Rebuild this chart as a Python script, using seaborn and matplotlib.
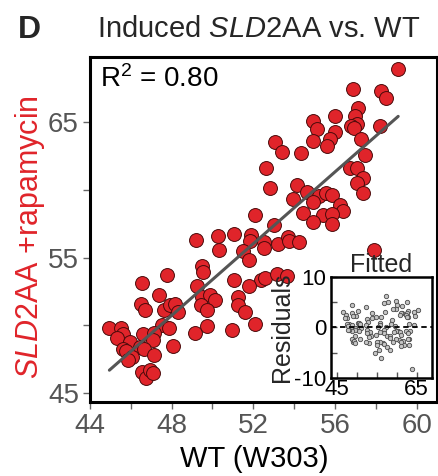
import numpy as np
import pandas as pd
import matplotlib
matplotlib.use("Agg")
import matplotlib.pyplot as plt
import seaborn as sns

# WT (W303) values (x) and induced SLD2AA +rapamycin values (y)
wt = [59.10, 56.89, 58.25, 58.48, 57.14, 56.01, 56.99, 54.95, 57.10, 56.77,
      56.94, 55.13, 58.19, 56.02, 55.74, 54.95, 55.59, 57.27, 53.07, 53.40,
      54.33, 57.48, 52.63, 56.76, 57.10, 57.37, 57.06, 54.15, 52.82, 57.37,
      54.64, 55.24, 55.54, 55.85, 53.95, 54.91, 56.25, 56.39, 54.43, 55.41,
      55.88, 54.95, 55.88, 52.06, 53.00, 49.20, 50.29, 51.04, 51.87, 51.84,
      50.32, 51.51, 52.53, 52.53, 53.19, 53.71, 53.75, 54.26, 51.80, 49.48,
      49.54, 47.77, 46.53, 51.06, 52.38, 52.58, 53.17, 53.66, 49.26, 51.81,
      51.23, 47.40, 49.47, 49.88, 50.10, 46.50, 46.70, 47.63, 47.91, 48.17,
      48.31, 49.42, 49.75, 51.25, 51.60, 52.06, 50.95, 49.72, 49.15, 47.51,
      47.85, 44.95, 45.51, 45.60, 45.32, 45.96, 46.61, 47.12, 47.09, 48.08,
      45.62, 45.78, 46.45, 46.65, 47.14, 46.04, 45.88, 46.53, 46.72, 46.93,
      47.07, 57.89]
sld2aa = [68.91, 67.44, 67.31, 66.79, 66.00, 65.48, 65.48, 65.11, 64.89, 64.70,
          64.56, 64.52, 64.70, 64.26, 63.75, 63.63, 63.23, 63.75, 63.55, 62.81,
          62.75, 62.54, 61.58, 61.64, 61.58, 60.90, 60.50, 60.37, 60.11, 59.74,
          59.80, 59.52, 59.76, 59.61, 59.30, 59.10, 58.91, 58.43, 58.26, 58.11,
          58.21, 57.60, 57.44, 58.14, 57.40, 56.27, 56.62, 56.72, 56.64, 56.25,
          55.55, 55.50, 56.11, 55.68, 55.98, 56.55, 56.23, 56.17, 54.82, 54.39,
          53.91, 53.69, 53.14, 53.36, 53.34, 53.46, 53.75, 53.67, 52.90, 52.87,
          52.12, 52.23, 52.08, 52.20, 51.84, 51.57, 51.16, 51.13, 51.49, 51.59,
          51.00, 51.52, 51.13, 51.46, 51.00, 50.09, 49.65, 49.96, 49.45, 50.02,
          49.80, 49.77, 49.77, 49.34, 49.07, 48.73, 49.34, 49.41, 48.93, 48.49,
          48.23, 48.10, 48.38, 48.23, 47.80, 47.66, 47.44, 46.54, 46.08, 46.68,
          46.45, 55.59]

x_major = [44, 48, 52, 56, 60]
x_minor = [46, 50, 54, 58]
y_major = [45, 55, 65]
y_minor = [50, 60]
in_xticks = [45, 50, 55, 60, 65]
in_xlabels = ["45", "", "", "", "65"]
in_yticks = [-10, -5, 0, 5, 10]
in_ylabels = ["-10", "", "0", "", "10"]

sns.set_theme(style="ticks")
plt.rcParams["font.family"] = ["Liberation Sans", "DejaVu Sans"]
plt.rcParams["mathtext.fontset"] = "custom"
plt.rcParams["mathtext.rm"] = "Liberation Sans"
plt.rcParams["mathtext.it"] = "Liberation Sans:italic"
plt.rcParams["mathtext.bf"] = "Liberation Sans:bold"

df = pd.DataFrame({"wt": wt, "sld2aa": sld2aa})

fig = plt.figure(figsize=(4.39, 4.76), dpi=100)
ax = fig.add_axes([0.2050, 0.1555, 0.7904, 0.7248])

sns.scatterplot(data=df, x="wt", y="sld2aa", ax=ax, s=100, color="#e0242a",
                edgecolor="#4a0a0a", linewidth=0.7, zorder=2, legend=False)
sns.regplot(data=df, x="wt", y="sld2aa", ax=ax, scatter=False, ci=None,
            color="#555555", line_kws=dict(lw=2.2, zorder=3))

ax.set_xlim(44, 61.0)
ax.set_ylim(44.34, 69.8)
ax.set_xticks(x_major)
ax.set_xticks(x_minor, minor=True)
ax.set_yticks(y_major)
ax.set_yticks(y_minor, minor=True)
ax.set_xlabel("")
ax.set_ylabel("")
ax.tick_params(which="both", direction="out", length=5, width=1.0,
               color="#666666", labelcolor="#555555", labelsize=20, pad=3)
for sp in ax.spines.values():
    sp.set_visible(True)
    sp.set_linewidth(2.2)
    sp.set_color("black")

ax.text(0.03, 0.975, r"R$^2$ = 0.80", transform=ax.transAxes, fontsize=20,
        ha="left", va="top", color="black")

fig.text(0.040, 1 - 38.3 / 476, "D", fontsize=23, fontweight="bold",
         ha="left", va="baseline")
fig.text(0.220, 1 - 37 / 476, r"Induced $\mathit{SLD2}$AA vs. WT", fontsize=21,
         ha="left", va="baseline")
fig.text(254 / 439, 1 - 467 / 476, "WT (W303)", fontsize=21, ha="center",
         va="baseline", color="black")
fig.text(30 / 439, 1 - 237 / 476, r"$\mathit{SLD2}$AA +rapamycin", fontsize=22,
         rotation=90, ha="center", va="center", color="#e0242a")

# Inset residuals vs fitted
coef = np.polyfit(df["wt"], df["sld2aa"], 1)
res = pd.DataFrame({"fitted": np.polyval(coef, df["wt"])})
res["resid"] = df["sld2aa"] - res["fitted"]

ax_in = fig.add_axes([330.7 / 439, 1 - 378 / 476, 101 / 439, 101.3 / 476])
ax_in.set_facecolor("white")
sns.scatterplot(data=res, x="fitted", y="resid", ax=ax_in, s=10,
                color="#c4c4c4", edgecolor="#4a4a4a", linewidth=0.6,
                legend=False, zorder=2)
ax_in.axhline(0, color="black", ls=(0, (3, 2)), lw=1.3, zorder=3)
ax_in.set_xlim(43.5, 68.75)
ax_in.set_ylim(-10, 10)
ax_in.set_xticks(in_xticks)
ax_in.set_xticklabels(in_xlabels)
ax_in.set_yticks(in_yticks)
ax_in.set_yticklabels(in_ylabels)
ax_in.tick_params(direction="in", length=4, width=1.0, color="#555555",
                  labelsize=16, labelcolor="black")
ax_in.tick_params(axis="y", pad=3)
ax_in.tick_params(axis="x", pad=1)
ax_in.set_xlabel("")
ax_in.set_ylabel("Residuals", fontsize=18)
ax_in.yaxis.set_label_coords(-0.36, 0.5)
ax_in.set_title("Fitted", fontsize=18, pad=3)
for sp in ax_in.spines.values():
    sp.set_visible(True)
    sp.set_linewidth(1.8)
    sp.set_color("black")

fig.savefig("out.png", dpi=100)
